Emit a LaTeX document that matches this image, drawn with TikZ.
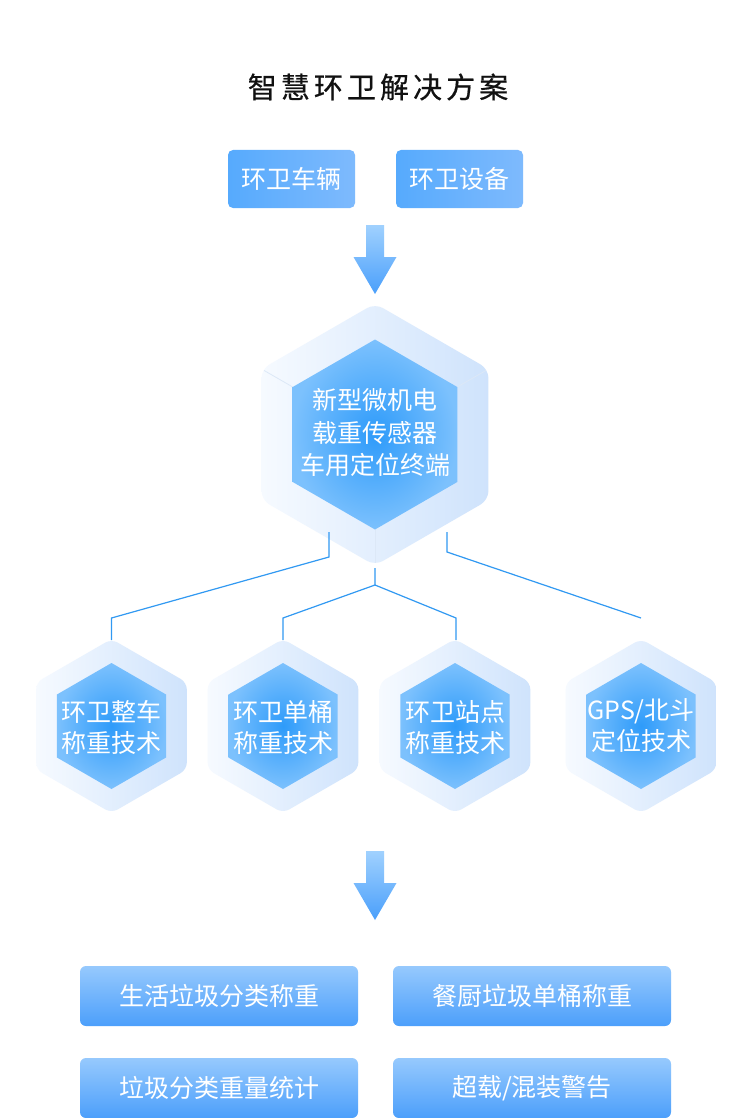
\documentclass[tikz,border=0pt]{standalone}
\usepackage{fontspec}
\setmainfont{Noto Sans CJK SC}
\usetikzlibrary{calc}
\definecolor{boxL}{HTML}{56AAFD}
\definecolor{boxR}{HTML}{7EBAFD}
\definecolor{hexIn}{HTML}{2E9BFA}
\definecolor{hexOut}{HTML}{7CC1FD}
\definecolor{ringL}{HTML}{F6FAFF}
\definecolor{ringR}{HTML}{CFE3FC}
\definecolor{lineC}{HTML}{3199F2}
\definecolor{arrT}{HTML}{A0D1FE}
\definecolor{arrB}{HTML}{4A9FFB}
\definecolor{btmT}{HTML}{96C9FD}
\definecolor{btmB}{HTML}{4C9FFB}
\definecolor{titleC}{HTML}{111111}
\definecolor{bevel}{HTML}{DCE8F7}
\newcommand\hexshape[3]{\path[#3] ($(#1)+(30:#2)$) -- ($(#1)+(90:#2)$) -- ($(#1)+(150:#2)$) -- ($(#1)+(210:#2)$) -- ($(#1)+(270:#2)$) -- ($(#1)+(330:#2)$) -- cycle;}
\tikzset{
  ring/.style={left color=ringL, right color=ringR, rounded corners=#1},
  corehex/.style={inner color=hexIn, outer color=hexOut},
  conn/.style={draw=lineC, line width=1.2pt},
  wtext/.style={text=white, inner sep=0pt, align=center},
  topbox/.style={wtext, rounded corners=5pt, left color=boxL, right color=boxR,
     minimum width=127pt, minimum height=58pt, font=\fontsize{25}{30}\selectfont},
  btmbox/.style={wtext, rounded corners=6pt, top color=btmT, bottom color=btmB,
     minimum width=278pt, minimum height=60pt, font=\fontsize{25}{30}\selectfont},
  downarrow/.style={top color=arrT, bottom color=arrB},
}
\begin{document}
\begin{tikzpicture}[x=1pt,y=-1pt]
\fill[white] (0,0) rectangle (750,1118);
\useasboundingbox (0,0) rectangle (750,1118);

% title
\node[text=titleC, inner sep=0pt, font=\fontsize{29}{33}\selectfont\addfontfeatures{LetterSpace=14,FakeBold=0.6}] (title) at (378,87) {智慧环卫解决方案};

% top boxes
\node[topbox] (v1) at (291.5,179) {环卫车辆};
\node[topbox] (v2) at (459.5,179) {环卫设备};

% arrow 1
\path[downarrow] (366,225) -- (384,225) -- (384,257) -- (396.5,257) -- (375,294) -- (353.5,257) -- (366,257) -- cycle;

% central hexagon
\coordinate (hc) at (375,434.5);
\hexshape{hc}{131}{ring=9pt}
\draw[bevel, line width=0.8pt] ($(hc)+(210:128)$) -- ($(hc)+(210:95)$);
\draw[bevel, line width=0.8pt] ($(hc)+(330:128)$) -- ($(hc)+(330:95)$);
\draw[bevel, line width=0.8pt] ($(hc)+(90:128)$) -- ($(hc)+(90:95)$);
\hexshape{hc}{95}{corehex}
\node[wtext, font=\fontsize{25}{32.5}\selectfont] (core) at (375,433) {新型微机电\\载重传感器\\车用定位终端};

% small hexagons
\coordinate (h1) at (111.5,726);
\coordinate (h2) at (283,726);
\coordinate (h3) at (455,726);
\coordinate (h4) at (641,726);
\foreach \h in {h1,h2,h3,h4}{
  \hexshape{\h}{87}{ring=7pt}
  \hexshape{\h}{63}{corehex}
}
\node[wtext, font=\fontsize{25}{31}\selectfont] (n1) at (111.5,727.5) {环卫整车\\称重技术};
\node[wtext, font=\fontsize{25}{31}\selectfont] (n2) at (283,727.5) {环卫单桶\\称重技术};
\node[wtext, font=\fontsize{25}{31}\selectfont] (n3) at (455,727.5) {环卫站点\\称重技术};
\node[wtext, font=\fontsize{25}{31}\selectfont] (n4) at (641,726) {GPS/北斗\\定位技术};

% connectors
\coordinate (cL) at (329,532);
\coordinate (cM) at (375,568);
\coordinate (cR) at (447,532);
\coordinate (t1) at (111.5,640);
\coordinate (t2) at (283,640);
\coordinate (t3) at (456,640);
\coordinate (t4) at (641,618);
\draw[conn] (cL) -- ++(0,25) -- ($(t1)+(0,-22)$) -- (t1);
\draw[conn] (cM) -- ++(0,17) coordinate (split) -- ($(t2)+(0,-22)$) -- (t2);
\draw[conn] (split) -- ($(t3)+(0,-22)$) -- (t3);
\draw[conn] (cR) -- ++(0,20) -- (t4);

% arrow 2
\path[downarrow] (366,851) -- (384,851) -- (384,883) -- (396.5,883) -- (375,920) -- (353.5,883) -- (366,883) -- cycle;

% bottom boxes
\node[btmbox] (b1) at (219,996) {生活垃圾分类称重};
\node[btmbox] (b2) at (532,996) {餐厨垃圾单桶称重};
\node[btmbox] (b3) at (219,1088) {垃圾分类重量统计};
\node[btmbox] (b4) at (532,1088) {超载/混装警告};
\end{tikzpicture}
\end{document}
